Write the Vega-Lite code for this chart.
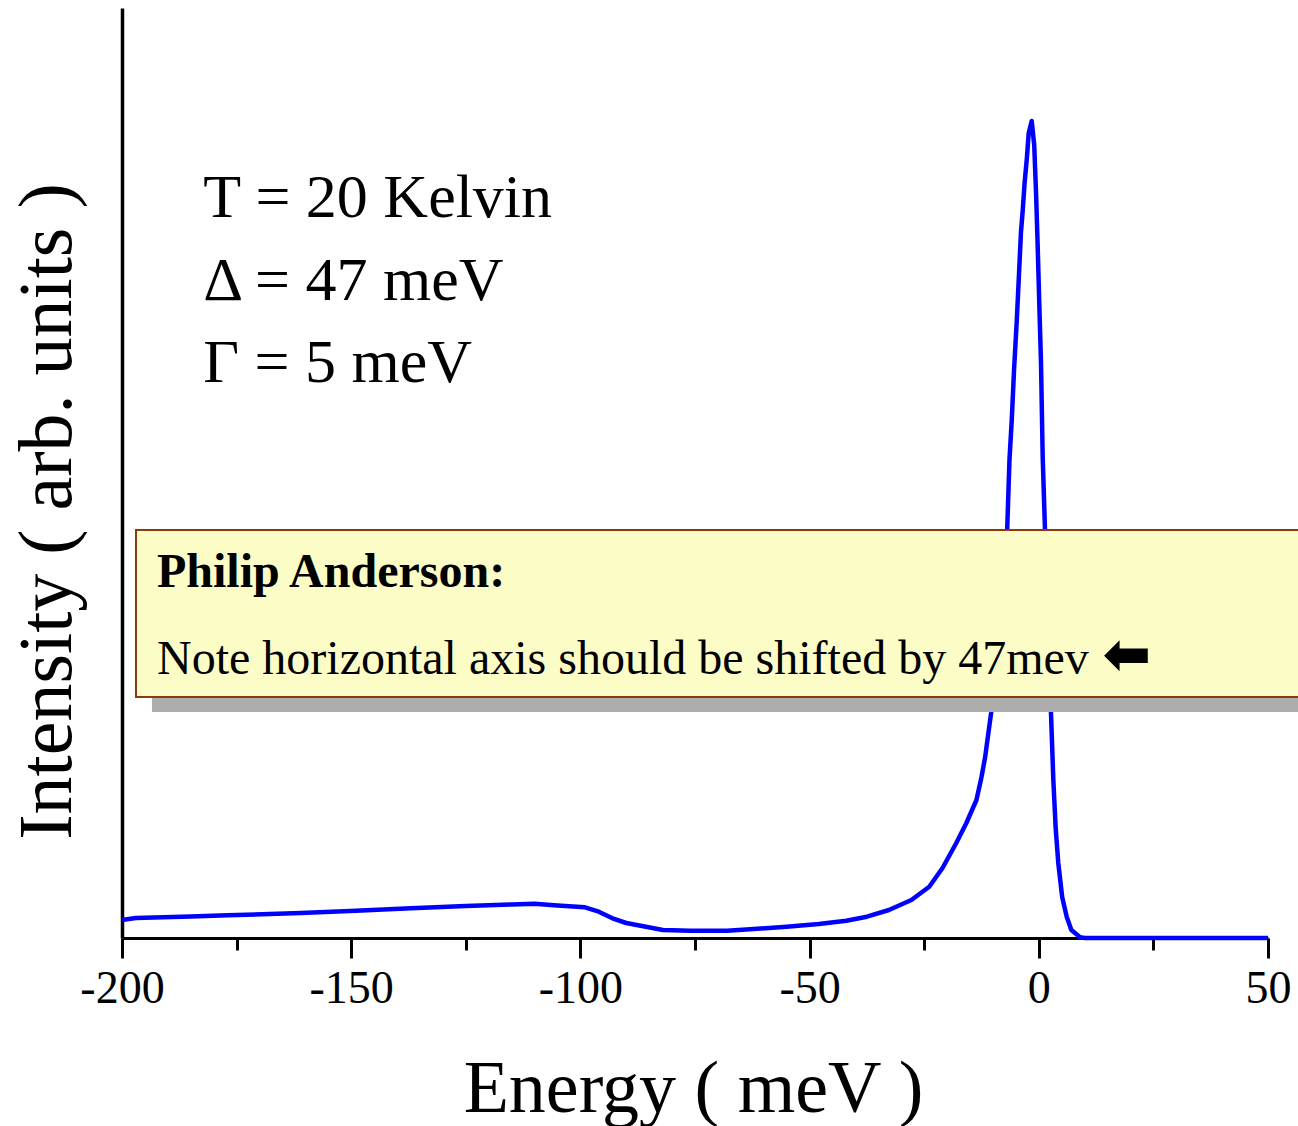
{
  "$schema": "https://vega.github.io/schema/vega-lite/v6.json",
  "width": 1146,
  "height": 930,
  "autosize": {"type": "none"},
  "padding": {"left": 122, "top": 8, "right": 30, "bottom": 188},
  "background": "white",
  "config": {"view": {"stroke": null}},
  "datasets": {
    "curve": [
      {"E": -200, "I": 18}, {"E": -197, "I": 20}, {"E": -185, "I": 21.5}, {"E": -177, "I": 22.7},
      {"E": -161, "I": 25}, {"E": -149, "I": 27.3}, {"E": -137, "I": 29.7}, {"E": -125, "I": 32},
      {"E": -115, "I": 33.5}, {"E": -110, "I": 34.3}, {"E": -105, "I": 32.5}, {"E": -99, "I": 30.7},
      {"E": -96, "I": 26.3}, {"E": -93, "I": 19.7}, {"E": -90, "I": 15}, {"E": -86, "I": 11.5},
      {"E": -82, "I": 8}, {"E": -76, "I": 7.3}, {"E": -68, "I": 7.3}, {"E": -63, "I": 8.7},
      {"E": -55, "I": 11.3}, {"E": -48, "I": 14}, {"E": -42, "I": 17.3}, {"E": -37.5, "I": 21.3},
      {"E": -32.7, "I": 28}, {"E": -27.8, "I": 38}, {"E": -23.9, "I": 51.3}, {"E": -21, "I": 70},
      {"E": -18, "I": 95}, {"E": -15.8, "I": 115}, {"E": -13.6, "I": 138}, {"E": -12.5, "I": 161},
      {"E": -11.7, "I": 181}, {"E": -11, "I": 205}, {"E": -10.4, "I": 225}, {"E": -9.2, "I": 280},
      {"E": -8, "I": 345}, {"E": -6.9, "I": 408}, {"E": -6.4, "I": 478}, {"E": -5.9, "I": 518},
      {"E": -5.4, "I": 568}, {"E": -4.8, "I": 618}, {"E": -4.3, "I": 666}, {"E": -3.9, "I": 705},
      {"E": -3.5, "I": 728}, {"E": -3.1, "I": 755}, {"E": -2.6, "I": 780}, {"E": -2.2, "I": 805},
      {"E": -1.55, "I": 817}, {"E": -1.0, "I": 793}, {"E": -0.6, "I": 745}, {"E": -0.25, "I": 693},
      {"E": 0.04, "I": 645}, {"E": 0.48, "I": 575}, {"E": 0.85, "I": 481}, {"E": 1.35, "I": 408},
      {"E": 2.0, "I": 310}, {"E": 2.66, "I": 225}, {"E": 3.17, "I": 158}, {"E": 3.68, "I": 110},
      {"E": 4.25, "I": 75}, {"E": 5.1, "I": 41}, {"E": 6.1, "I": 21}, {"E": 7.1, "I": 8},
      {"E": 9, "I": 0.7}, {"E": 10, "I": 0}, {"E": 30, "I": 0}, {"E": 50, "I": 0}
    ]
  },
  "layer": [
    {
      "data": {"name": "curve"},
      "mark": {"type": "line", "color": "#0000FF", "strokeWidth": 4.5, "strokeJoin": "round"},
      "encoding": {
        "x": {
          "field": "E", "type": "quantitative",
          "scale": {"domain": [-200, 50], "nice": false, "zero": false},
          "axis": {
            "grid": false,
            "values": [-200, -175, -150, -125, -100, -75, -50, -25, 0, 25, 50],
            "domainColor": "black", "domainWidth": 3,
            "tickColor": "black", "tickWidth": 3,
            "tickSize": {"condition": {"test": "datum.value % 50 === 0", "value": 20}, "value": 12},
            "labelExpr": "datum.value % 50 === 0 ? '' + datum.value : ''",
            "labelFont": "Liberation Serif", "labelFontSize": 46, "labelColor": "black",
            "labelPadding": 8,
            "labelFlush": false, "labelOverlap": false,
            "title": "Energy ( meV )",
            "titleFont": "Liberation Serif", "titleFontSize": 74, "titleFontWeight": "normal",
            "titleColor": "black", "titleX": 571, "titleY": 173, "titleBaseline": "alphabetic",
            "titleAlign": "center"
          }
        },
        "y": {
          "field": "I", "type": "quantitative",
          "scale": {"domain": [0, 930], "nice": false},
          "axis": {
            "grid": false, "ticks": false, "labels": false,
            "domainColor": "black", "domainWidth": 3.5,
            "title": "Intensity ( arb. units )",
            "titleFont": "Liberation Serif", "titleFontSize": 76, "titleFontWeight": "normal",
            "titleColor": "black", "titleX": -52, "titleY": 503, "titleAngle": 270,
            "titleBaseline": "alphabetic", "titleAlign": "center"
          }
        }
      }
    },
    {
      "data": {"values": [{}]},
      "mark": {"type": "rect", "color": "#ADADAD"},
      "encoding": {
        "x": {"datum": -193.46, "type": "quantitative"},
        "x2": {"datum": 60},
        "y": {"datum": 241, "type": "quantitative"},
        "y2": {"datum": 226}
      }
    },
    {
      "data": {"values": [{}]},
      "mark": {"type": "rect", "fill": "#FCFCC6", "stroke": "#8B3A10", "strokeWidth": 2},
      "encoding": {
        "x": {"datum": -196.95, "type": "quantitative"},
        "x2": {"datum": 60},
        "y": {"datum": 408, "type": "quantitative"},
        "y2": {"datum": 241}
      }
    },
    {
      "data": {"values": [{}]},
      "mark": {"type": "text", "font": "Liberation Serif", "fontSize": 48, "fontWeight": "bold", "align": "left", "baseline": "alphabetic", "color": "black"},
      "encoding": {
        "x": {"datum": -192.36, "type": "quantitative"},
        "y": {"datum": 351, "type": "quantitative"},
        "text": {"value": "Philip Anderson:"}
      }
    },
    {
      "data": {"values": [{}]},
      "mark": {"type": "text", "font": "Liberation Serif", "fontSize": 48, "align": "left", "baseline": "alphabetic", "color": "black"},
      "encoding": {
        "x": {"datum": -192.36, "type": "quantitative"},
        "y": {"datum": 264, "type": "quantitative"},
        "text": {"value": "Note horizontal axis should be shifted by 47mev"}
      }
    },
    {
      "data": {"values": [{}]},
      "mark": {"type": "text", "font": "DejaVu Sans", "fontSize": 58, "fontWeight": "bold", "align": "center", "baseline": "middle", "color": "black"},
      "encoding": {
        "x": {"datum": 19.2, "type": "quantitative"},
        "y": {"datum": 281, "type": "quantitative"},
        "text": {"value": "⬅"}
      }
    },
    {
      "data": {"values": [
        {"label": "T = 20 Kelvin", "row": 721},
        {"label": "Δ = 47 meV", "row": 638},
        {"label": "Γ = 5 meV", "row": 556}
      ]},
      "mark": {"type": "text", "font": "Liberation Serif", "fontSize": 62, "align": "left", "baseline": "alphabetic", "color": "black"},
      "encoding": {
        "x": {"datum": -182.3, "type": "quantitative"},
        "y": {"field": "row", "type": "quantitative"},
        "text": {"field": "label"}
      }
    }
  ]
}
